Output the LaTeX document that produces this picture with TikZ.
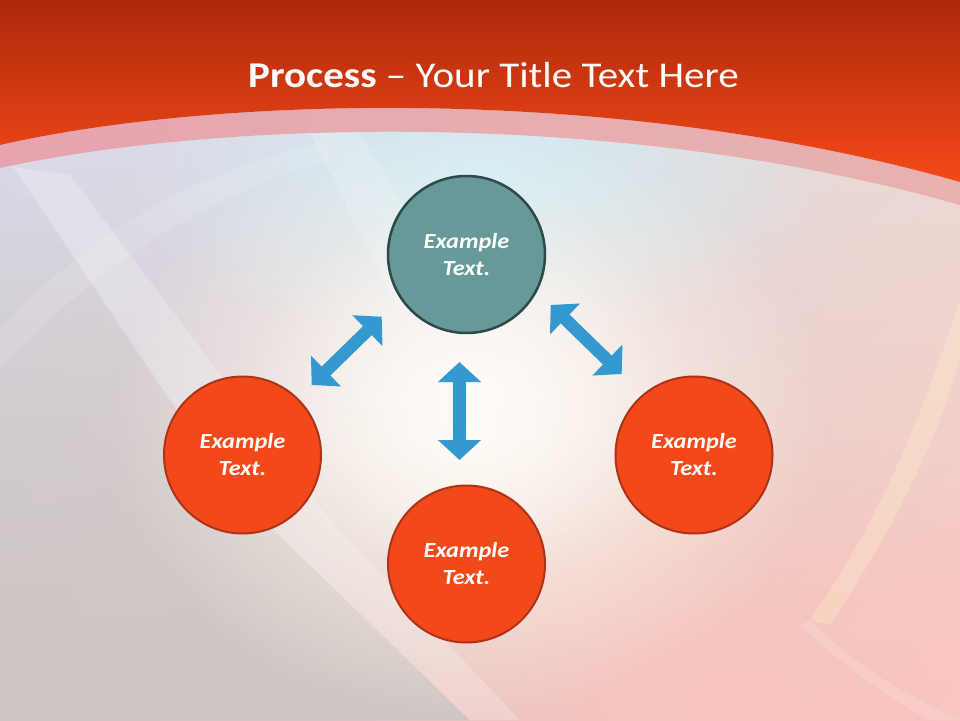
\documentclass[tikz,border=0pt]{standalone}
\usepackage{fontspec}
\setmainfont{Carlito}[FakeStretch=1.13]
\usetikzlibrary{arrows.meta,shadings,fadings}
\definecolor{orfill}{RGB}{243,73,26}
\definecolor{ordraw}{RGB}{172,50,24}
\definecolor{tealfill}{RGB}{104,153,153}
\definecolor{tealdraw}{RGB}{44,74,74}
\definecolor{arrowblue}{RGB}{52,153,206}
\definecolor{hdrtop}{RGB}{172,41,10}
\definecolor{hdrbot}{RGB}{245,73,25}
\definecolor{bandl}{RGB}{231,162,172}
\definecolor{bandr}{RGB}{232,176,174}
\definecolor{bgul}{RGB}{220,222,242}
\definecolor{bgur}{RGB}{230,222,218}
\definecolor{bgll}{RGB}{206,198,196}
\definecolor{bglr}{RGB}{251,198,190}
\definecolor{cream}{RGB}{255,249,238}
\definecolor{skyc}{RGB}{208,238,246}
\definecolor{pinkc}{RGB}{248,196,190}
\definecolor{grayc}{RGB}{207,199,197}
\definecolor{yellc}{RGB}{253,238,200}
\tikzfading[name=glow, inner color=transparent!0, outer color=transparent!100]
\tikzfading[name=fadedown, top color=transparent!100, bottom color=transparent!0]
\begin{document}
\begin{tikzpicture}[x=1pt,y=-1pt,
  ball/.style={circle, minimum size=157pt, inner sep=0pt, fill=orfill, draw=ordraw,
    line width=2pt, text=white, align=center,
    font=\fontsize{21.5}{27}\selectfont\bfseries\itshape},
  tealball/.style={ball, fill=tealfill, draw=tealdraw, line width=2.5pt},
  dblarrow/.style={draw=arrowblue, line width=12.5pt,
    {Triangle[width=42pt,length=20pt]}-{Triangle[width=42pt,length=20pt]}}]
\useasboundingbox (0,0) rectangle (960,720);
% background
\shade[shading=bilinear interpolation, upper left=bgul, upper right=bgur,
  lower left=bgll, lower right=bglr] (0,0) rectangle (960,720);
\fill[skyc, path fading=glow] (480,180) ellipse (360 and 170);
\fill[pinkc, path fading=glow] (720,700) ellipse (420 and 260);
\fill[grayc, path fading=fadedown] (0,167) -- (13,167) -- (177,410) -- (277,533) -- (470,720) -- (0,720) -- cycle;
\fill[cream, path fading=glow] (470,420) ellipse (360 and 300);
\fill[white, opacity=0.7, path fading=glow] (470,390) ellipse (230 and 190);
\fill[white, opacity=0.22] (13,167) -- (70,175) -- (330,520) -- (520,720) -- (470,720) -- (277,533) -- (177,410) -- cycle;
\fill[white, opacity=0.18] (310,133) -- (360,133) -- (470,320) -- (400,313) -- cycle;
\fill[white, opacity=0.12] (0,330) .. controls (90,230) and (200,170) .. (330,140) -- (330,160) .. controls (210,195) and (100,260) .. (0,370) -- cycle;
\fill[yellc, opacity=0.35] (960,300) .. controls (920,420) and (880,520) .. (810,620) -- (830,625) .. controls (900,520) and (940,430) .. (960,360) -- cycle;
\fill[white, opacity=0.15] (810,620) .. controls (870,680) and (920,700) .. (960,720) -- (930,720) .. controls (890,700) and (850,670) .. (800,625) -- cycle;
% pink band under header
\shade[left color=bandl, right color=bandr, opacity=0.95]
  (0,145) .. controls (220,95) and (620,85) .. (960,182) -- (960,205)
  .. controls (620,108) and (220,120) .. (0,168) -- cycle;
% header
\shade[top color=hdrtop, bottom color=hdrbot]
  (0,0) -- (960,0) -- (960,182) .. controls (620,85) and (220,95) .. (0,145) -- cycle;
\node[anchor=base west, inner sep=0pt, text=white, font=\fontsize{36.3}{44}\selectfont]
  (title) at (248,87) {\textbf{Process} – Your Title Text Here};
% circles
\node[tealball] (top) at (466.5,254.5) {Example\\Text.};
\node[ball] (left) at (242.5,455) {Example\\Text.};
\node[ball] (bottom) at (466.5,564) {Example\\Text.};
\node[ball] (right) at (694,455) {Example\\Text.};
% arrows
\coordinate (la1) at (311.7,385);
\coordinate (la2) at (381.7,316.7);
\coordinate (va1) at (459.5,362);
\coordinate (va2) at (459.5,460);
\coordinate (ra1) at (550.7,305);
\coordinate (ra2) at (621.7,374);
\draw[dblarrow] (la1) -- (la2);
\draw[dblarrow] (va1) -- (va2);
\draw[dblarrow] (ra1) -- (ra2);
\end{tikzpicture}
\end{document}
